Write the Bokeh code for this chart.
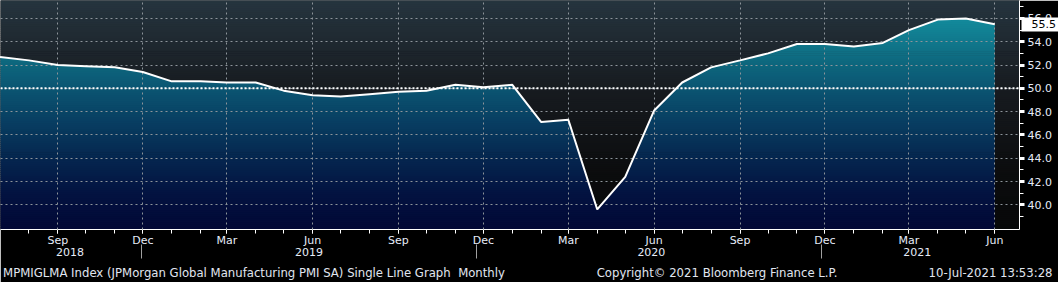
import numpy as np
import pandas as pd
from bokeh.plotting import figure
from bokeh.models import (Range1d, FixedTicker, DatetimeAxis, DatetimeTickFormatter,
                          NumeralTickFormatter, Span, LinearAxis, CustomJSTickFormatter)
from bokeh.embed import file_html
from bokeh.resources import INLINE

# ---------------- data ----------------
months = pd.date_range("2018-07-01", "2021-06-01", freq="MS")
pmi = [52.7, 52.4, 52.0, 51.9, 51.8, 51.4,
       50.6, 50.6, 50.5, 50.5, 49.8, 49.4,
       49.3, 49.5, 49.7, 49.8, 50.3, 50.1,
       50.3, 47.1, 47.3, 39.6, 42.4, 48.1,
       50.5, 51.8, 52.4, 53.0, 53.8, 53.8,
       53.6, 53.9, 55.0, 55.9, 56.0, 55.5]
y_major = [40, 42, 44, 46, 48, 50, 52, 54, 56]
y_minor = [39, 41, 43, 45, 47, 49, 51, 53, 55, 57]
quarter_ticks = pd.to_datetime(["2018-09-01", "2018-12-01", "2019-03-01", "2019-06-01",
                                "2019-09-01", "2019-12-01", "2020-03-01", "2020-06-01",
                                "2020-09-01", "2020-12-01", "2021-03-01", "2021-06-01"])
month_ticks = pd.date_range("2018-07-01", "2021-06-01", freq="MS")
year_label_dates = pd.to_datetime(["2018-09-14", "2019-05-28", "2020-05-29", "2021-03-10"])
year_sep_dates = pd.to_datetime(["2018-11-30", "2019-11-24", "2020-11-27"])
footer_texts = ["MPMIGLMA Index (JPMorgan Global Manufacturing PMI SA) Single Line Graph\u00a0\u00a0Monthly",
                "Copyright\u00a9 2021 Bloomberg Finance L.P.",
                "10-Jul-2021 13:53:28"]

def ms(d):
    return pd.Timestamp(d).value / 1e6

X0 = pd.Timestamp("2018-07-01 12:00")
X1 = pd.Timestamp("2021-06-27 12:00")
Y0, Y1 = 37.88, 57.54
FRAME_W, FRAME_H = 1021, 232

FONT = "DejaVu Sans"
TXT = "#e6ecf8"

p = figure(width=1058, height=282, x_axis_type="datetime", y_axis_location="right",
           x_range=Range1d(X0, X1), y_range=Range1d(Y0, Y1),
           output_backend="svg", toolbar_location=None,
           min_border_left=0, min_border_top=0, min_border_right=1058 - FRAME_W,
           min_border_bottom=282 - FRAME_H)
p.background_fill_color = "black"
p.border_fill_color = "black"
p.outline_line_color = None

# ---------------- gradient helpers ----------------
def hex2rgb(h):
    h = h.lstrip("#")
    return np.array([int(h[i:i + 2], 16) for i in (0, 2, 4)], dtype=float)

def grad(stops, v):
    ks = [s[0] for s in stops]
    cs = np.array([hex2rgb(s[1]) for s in stops])
    r = [np.interp(v, ks, cs[:, i]) for i in range(3)]
    return "#%02x%02x%02x" % tuple(int(round(c)) for c in r)

teal_stops = [(37.8, "#020735"), (41.0, "#031341"), (44.0, "#05264f"), (47.0, "#083d61"),
              (50.0, "#0b5572"), (52.5, "#0e6a80"), (55.5, "#128698"), (57.6, "#1695a8")]
dark_stops = [(37.8, "#070809"), (42.5, "#0b0c0d"), (50.0, "#171b20"), (57.6, "#26353f")]

band = 0.17
levels = np.arange(Y0 - 0.05, Y1 + 0.05, band)
ov = 0.06

# dark background (whole frame)
p.quad(left=[X0] * len(levels), right=[X1] * len(levels),
       bottom=list(levels), top=list(levels + band + ov),
       fill_color=[grad(dark_stops, l + band / 2) for l in levels], line_color=None)

# teal area under the line, sliced into horizontal bands for the gradient
xm = np.array([ms(d) for d in months])
vals = np.array(pmi, dtype=float)

def band_poly(a, b):
    px, py = [], []
    for i in range(len(xm) - 1):
        x0, x1, y0, y1 = xm[i], xm[i + 1], vals[i], vals[i + 1]
        px.append(x0); py.append(y0)
        cuts = []
        for lev in (a, b):
            if (y0 - lev) * (y1 - lev) < 0:
                cuts.append((lev - y0) / (y1 - y0))
        for t in sorted(cuts):
            px.append(x0 + t * (x1 - x0)); py.append(y0 + t * (y1 - y0))
    px.append(xm[-1]); py.append(vals[-1])
    g = np.clip(np.array(py), a, b)
    return list(px) + list(px[::-1]), list(g) + [a] * len(px)

pxs, pys, pcs = [], [], []
for l in levels:
    if vals.max() <= l:
        continue
    xs_, ys_ = band_poly(l, l + band + ov)
    pxs.append(xs_); pys.append(ys_); pcs.append(grad(teal_stops, l + band / 2))
p.patches(xs=pxs, ys=pys, fill_color=pcs, line_color=None)

# white line
ln = p.line(months, pmi, line_color="white", line_width=2)
ln.level = "overlay"

# ---------------- grid ----------------
p.xgrid.ticker = FixedTicker(ticks=[ms(d) for d in quarter_ticks])
p.ygrid.ticker = FixedTicker(ticks=y_major)
for g in (p.xgrid[0], p.ygrid[0]):
    g.grid_line_color = "#8d949a"
    g.grid_line_dash = "2 3"
    g.grid_line_width = 1
    g.level = "guide"
p.add_layout(Span(location=50, dimension="width", line_color="white",
                  line_dash="2 2", line_width=2))

# ---------------- y axis (right) ----------------
ya = p.yaxis[0]
ya.ticker = FixedTicker(ticks=y_major, minor_ticks=y_minor)
ya.formatter = NumeralTickFormatter(format="0.0")
ya.axis_line_color = "white"
ya.major_tick_line_color = "white"
ya.major_tick_line_width = 3
ya.major_tick_out = 5
ya.major_tick_in = 0
ya.minor_tick_line_color = "white"
ya.minor_tick_out = 4
ya.minor_tick_in = 0
ya.major_label_text_color = TXT
ya.major_label_text_font = FONT
ya.major_label_text_font_size = "11px"
ya.major_label_standoff = 3

# last value box: a second right axis whose single thick tick points back
# toward the frame and whose label is pulled over it
lv = LinearAxis(ticker=FixedTicker(ticks=[pmi[-1]]),
                formatter=NumeralTickFormatter(format="0.0"))
lv.axis_line_color = None
lv.minor_tick_line_color = None
lv.major_tick_line_color = "white"
lv.major_tick_line_width = 14
lv.major_tick_line_cap = "butt"
lv.major_tick_in = 33
lv.major_tick_out = 4
lv.major_label_standoff = -27
lv.major_label_text_color = "black"
lv.major_label_text_font = FONT
lv.major_label_text_font_size = "11px"
p.add_layout(lv, "right")

# ---------------- x axis (months) ----------------
xa = p.xaxis[0]
xa.ticker = FixedTicker(ticks=[ms(d) for d in quarter_ticks],
                        minor_ticks=[ms(d) for d in month_ticks])
xa.formatter = DatetimeTickFormatter(months="%b", days="%b")
xa.axis_line_color = "white"
xa.major_tick_line_color = "white"
xa.major_tick_out = 4
xa.major_tick_in = 0
xa.minor_tick_line_color = "white"
xa.minor_tick_out = 4
xa.minor_tick_in = 0
xa.major_label_text_color = TXT
xa.major_label_text_font = FONT
xa.major_label_text_font_size = "11px"
xa.major_label_standoff = 0

# year labels
yax = DatetimeAxis(ticker=FixedTicker(ticks=[ms(d) for d in year_label_dates]),
                   formatter=DatetimeTickFormatter(months="%Y", days="%Y", years="%Y"))
yax.axis_line_color = None
yax.major_tick_line_color = None
yax.minor_tick_line_color = None
yax.major_label_text_color = TXT
yax.major_label_text_font = FONT
yax.major_label_text_font_size = "11px"
yax.major_label_standoff = -8
p.add_layout(yax, "below")

# footer line as the labels of one more axis; its minor ticks, pointing up
# into the year row, are the year separators
def px2ms(px):
    return ms(X0) + px / FRAME_W * (ms(X1) - ms(X0))

footer_centers = [px2ms(254), px2ms(718), px2ms(992)]
fax = DatetimeAxis(ticker=FixedTicker(ticks=footer_centers,
                                      minor_ticks=[ms(d) for d in year_sep_dates]),
                   formatter=CustomJSTickFormatter(args=dict(texts=footer_texts),
                                                   code="return texts[index]"))
fax.axis_line_color = None
fax.major_tick_line_color = None
fax.minor_tick_line_color = "#a0a0a0"
fax.minor_tick_in = 14
fax.minor_tick_out = 0
fax.major_label_text_color = "#e0e6f0"
fax.major_label_text_font = FONT
fax.major_label_text_font_size = "11.7px"
fax.major_label_standoff = 1
p.add_layout(fax, "below")

open("out.html", "w").write(file_html(p, INLINE))
